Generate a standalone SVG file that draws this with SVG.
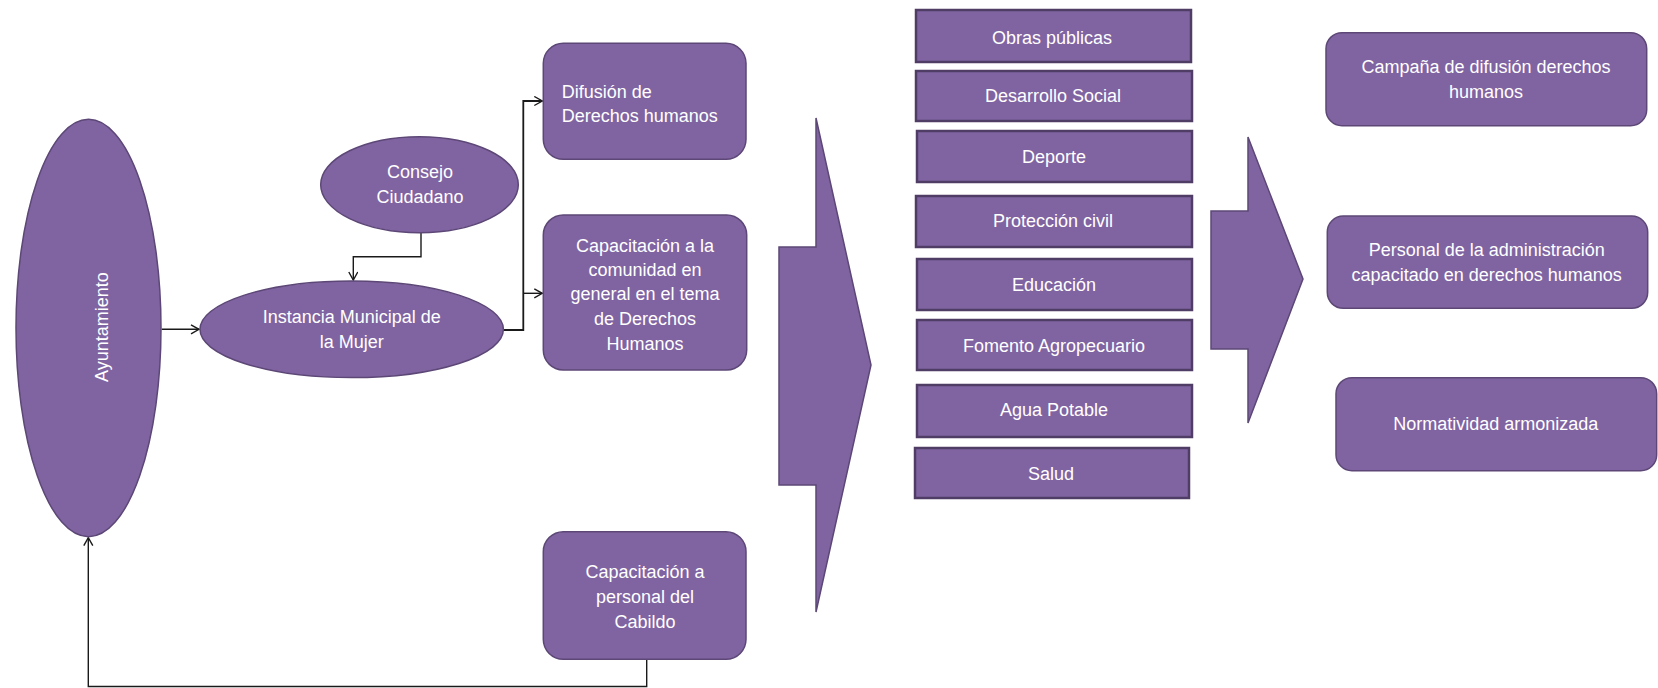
<svg xmlns="http://www.w3.org/2000/svg" width="1658" height="688" viewBox="0 0 1658 688">
<style>
.n{fill:#8064A2;stroke:#5C4776;stroke-width:1.5}
.r{fill:#8064A2;stroke:#4F3D66;stroke-width:2.5}
.t{font-family:"Liberation Sans",Arial,sans-serif;font-size:18px;fill:#FFFFFF;text-anchor:middle}
.tl{text-anchor:start}
.c{fill:none;stroke:#1A1A1A;stroke-width:1.4}
</style>
<defs>
<marker id="ar" markerUnits="userSpaceOnUse" markerWidth="12" markerHeight="12" refX="9" refY="5" orient="auto">
<path d="M1,0.5 L9,5 L1,9.5" fill="none" stroke="#1A1A1A" stroke-width="1.4"/>
</marker>
</defs>
<rect width="1658" height="688" fill="#FFFFFF"/>

<g id="connectors">
<path class="c" d="M161.7,329.3 L199,329.3" marker-end="url(#ar)"/>
<path class="c" d="M421,232.7 L421,256.7 L353.3,256.7 L353.3,280" marker-end="url(#ar)"/>
<path class="c" d="M503.3,330 L523.3,330 L523.3,101 L542.3,101" marker-end="url(#ar)" style="stroke-width:1.8"/>
<path class="c" d="M523.3,293.3 L542.3,293.3" marker-end="url(#ar)"/>
<path class="c" d="M646.7,659.3 L646.7,686.5 L88.3,686.5 L88.3,537.7" marker-end="url(#ar)"/>
</g>

<g id="ayuntamiento">
<ellipse class="n" cx="88.5" cy="328" rx="72.5" ry="208.7"/>
<text class="t" transform="translate(107.5,327) rotate(-90)" x="0" y="0">Ayuntamiento</text>
</g>

<g id="consejo">
<ellipse class="n" cx="419.5" cy="184.7" rx="98.8" ry="48"/>
<text class="t" x="420" y="178">Consejo</text>
<text class="t" x="420" y="203">Ciudadano</text>
</g>

<g id="instancia">
<ellipse class="n" cx="351.7" cy="329.3" rx="151.7" ry="48.3"/>
<text class="t" x="351.7" y="323">Instancia Municipal de</text>
<text class="t" x="351.7" y="347.5">la Mujer</text>
</g>

<g id="difusion">
<rect class="n" x="543.3" y="43.3" width="202.7" height="116" rx="20"/>
<text class="t tl" x="561.7" y="98">Difusión de</text>
<text class="t tl" x="561.7" y="121.5">Derechos humanos</text>
</g>

<g id="capacitacion-comunidad">
<rect class="n" x="543.3" y="215" width="203.4" height="155" rx="20"/>
<text class="t" x="645" y="251.5">Capacitación a la</text>
<text class="t" x="645" y="275.8">comunidad en</text>
<text class="t" x="645" y="300">general en el tema</text>
<text class="t" x="645" y="324.5">de Derechos</text>
<text class="t" x="645" y="349.5">Humanos</text>
</g>

<g id="capacitacion-cabildo">
<rect class="n" x="543.3" y="531.7" width="202.7" height="127.6" rx="20"/>
<text class="t" x="645" y="578">Capacitación a</text>
<text class="t" x="645" y="603">personal del</text>
<text class="t" x="645" y="628">Cabildo</text>
</g>

<g id="flecha1">
<polygon class="n" points="816,118 871,365 816,612 816,485 779,485 779,247 816,247"/>
</g>

<g id="obras">
<rect class="r" x="916" y="10" width="275" height="52"/>
<text class="t" x="1052" y="43.5">Obras públicas</text>
</g>
<g id="desarrollo">
<rect class="r" x="916" y="71" width="276" height="50"/>
<text class="t" x="1053" y="102.3">Desarrollo Social</text>
</g>
<g id="deporte">
<rect class="r" x="917" y="131" width="275" height="51"/>
<text class="t" x="1054" y="163">Deporte</text>
</g>
<g id="proteccion">
<rect class="r" x="916" y="196" width="276" height="51"/>
<text class="t" x="1053" y="227.3">Protección civil</text>
</g>
<g id="educacion">
<rect class="r" x="917" y="259" width="275" height="51"/>
<text class="t" x="1054" y="291.3">Educación</text>
</g>
<g id="fomento">
<rect class="r" x="917" y="320" width="275" height="50"/>
<text class="t" x="1054" y="352">Fomento Agropecuario</text>
</g>
<g id="agua">
<rect class="r" x="917" y="385" width="275" height="52"/>
<text class="t" x="1054" y="416.3">Agua Potable</text>
</g>
<g id="salud">
<rect class="r" x="915" y="448" width="274" height="50"/>
<text class="t" x="1051" y="479.6">Salud</text>
</g>

<g id="flecha2">
<polygon class="n" points="1248,137 1303,279 1248,423 1248,349 1211,349 1211,211 1248,211"/>
</g>

<g id="campana">
<rect class="n" x="1326" y="32.7" width="320.7" height="93" rx="16"/>
<text class="t" x="1486" y="73">Campaña de difusión derechos</text>
<text class="t" x="1486" y="98">humanos</text>
</g>
<g id="personal">
<rect class="n" x="1327.3" y="216" width="320.4" height="92.3" rx="16"/>
<text class="t" x="1486.7" y="256.3">Personal de la administración</text>
<text class="t" x="1486.7" y="281.3">capacitado en derechos humanos</text>
</g>
<g id="normatividad">
<rect class="n" x="1336" y="377.7" width="320.7" height="93" rx="16"/>
<text class="t" x="1495.7" y="429.6">Normatividad armonizada</text>
</g>
</svg>
